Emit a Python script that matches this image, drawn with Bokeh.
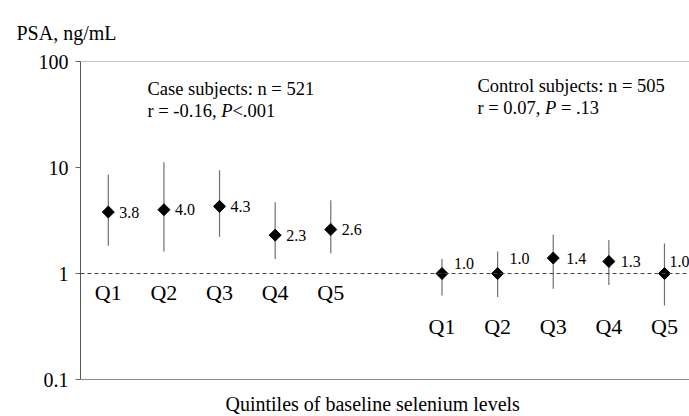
import math
from bokeh.plotting import figure
from bokeh.models import (Range1d, FixedTicker, CustomJSTickFormatter, Span, Label,
                          ColumnDataSource, Title)
from bokeh.embed import file_html
from bokeh.resources import INLINE
from bokeh.core.properties import value

# ---------------- data ----------------
quintiles = ["Q1", "Q2", "Q3", "Q4", "Q5"]
case_psa = [3.8, 4.0, 4.3, 2.3, 2.6]
case_low = [1.83, 1.61, 2.22, 1.37, 1.55]
case_high = [8.6, 11.2, 9.4, 4.7, 4.9]
ctrl_psa = [1.0, 1.0, 1.4, 1.3, 1.0]
ctrl_low = [0.62, 0.60, 0.72, 0.78, 0.50]
ctrl_high = [1.37, 1.61, 2.34, 2.07, 1.92]
y_ticks = [0.1, 1, 10, 100]
case_title = "Case subjects: n = 521"
case_stats = ["r = -0.16, ", "P", "<.001"]
ctrl_title = "Control subjects: n = 505"
ctrl_stats = ["r = 0.07, ", "P", " = .13"]
y_title = "PSA, ng/mL"
x_title = "Quintiles of baseline selenium levels"

# ---------------- style ----------------
FONT = "Liberation Serif"
case_x = [i + 1 for i in range(len(quintiles))]
ctrl_x = [i + 7 for i in range(len(quintiles))]
case_lbl_dy = [0, 0, 0, 0, 0]
case_lbl_dx = [11, 11, 11, 11, 11]
ctrl_lbl_dy = [-10, -15, 0, 0, -12]
ctrl_lbl_dx = [12, 12, 13, 12, 5]

# the frame runs to the bottom of the canvas; the axis itself stops at 0.1
p = figure(width=689, height=416, y_axis_type="log",
           x_range=Range1d(0.5, 11.45), y_range=Range1d(0.0448, 100),
           x_axis_location=None,
           output_backend="svg", toolbar_location=None,
           min_border_left=80, min_border_right=0, min_border_top=61,
           min_border_bottom=0)
p.outline_line_color = None
p.grid.visible = False
p.background_fill_color = "white"
p.border_fill_color = "white"

# left axis
ya = p.yaxis[0]
ya.bounds = (0.1, 100)
ya.ticker = FixedTicker(ticks=y_ticks, minor_ticks=[])
ya.formatter = CustomJSTickFormatter(code="return String(tick);")
ya.major_tick_out = 5
ya.major_tick_in = 0
ya.minor_tick_out = 0
ya.minor_tick_in = 0
ya.major_tick_line_color = "#666666"
ya.axis_line_color = "#555555"
ya.major_label_standoff = 7
ya.major_label_text_font = FONT
ya.major_label_text_font_size = "20px"
ya.major_label_text_color = "black"

# frame lines: top, bottom and reference line at 1
p.add_layout(Span(location=100, dimension="width", line_color="#8a8a8a", line_width=1))
p.add_layout(Span(location=0.1, dimension="width", line_color="#8a8a8a", line_width=1))
p.add_layout(Span(location=1, dimension="width", line_color="#444444", line_width=1,
                  line_dash="4 3"))

case_src = ColumnDataSource(dict(x=case_x, y=case_psa, lo=case_low, hi=case_high,
                                 lab=["%.1f" % v for v in case_psa], q=quintiles,
                                 one=[1] * len(case_x), dy=case_lbl_dy,
                                 dx=case_lbl_dx))
ctrl_src = ColumnDataSource(dict(x=ctrl_x, y=ctrl_psa, lo=ctrl_low, hi=ctrl_high,
                                 lab=["%.1f" % v for v in ctrl_psa], q=quintiles,
                                 one=[1] * len(ctrl_x), dy=ctrl_lbl_dy,
                                 dx=ctrl_lbl_dx))

for src, qdy in ((case_src, 19), (ctrl_src, 53)):
    p.segment(x0="x", y0="lo", x1="x", y1="hi", source=src, line_color="#707070",
              line_width=1.2)
    p.scatter(x="x", y="y", source=src, marker="square", angle=math.pi / 4, size=8.5,
              fill_color="black", line_color="black")
    p.text(x="x", y="y", text="lab", source=src, x_offset="dx", y_offset="dy",
           text_baseline="middle", text_align="left", text_font=value(FONT),
           text_font_size="16px", text_color="black")
    p.text(x="x", y="one", text="q", source=src, y_offset=qdy,
           text_baseline="alphabetic", text_align="center", text_font=value(FONT),
           text_font_size="22px", text_color="black")

# character widths (Times / Liberation Serif, per 1000 em)
W = {' ': 250, 'r': 333, '=': 564, '-': 333, '.': 250, ',': 250, '<': 564, 'P': 611}
for d in "0123456789":
    W[d] = 500


def tw(s, size):
    return sum(W.get(c, 500) for c in s) * size / 1000.0


def add_block(x, y1, y2, title, parts, size=18.5):
    p.add_layout(Label(x=x, y=y1, x_units="screen", y_units="screen", text=title,
                       text_font=FONT, text_font_size="%gpx" % size,
                       text_baseline="alphabetic", text_color="black"))
    cx = x
    for i, s in enumerate(parts):
        lead = len(s) - len(s.lstrip(" "))
        cx += tw(" " * lead, size)
        s2 = s.strip(" ")
        p.add_layout(Label(x=cx, y=y2, x_units="screen", y_units="screen", text=s2,
                           text_font=FONT, text_font_size="%gpx" % size,
                           text_font_style="italic" if i == 1 else "normal",
                           text_baseline="alphabetic", text_color="black"))
        cx += tw(s.lstrip(" "), size)


# screen units are measured from the frame's bottom-left corner (canvas bottom)
add_block(67, 416 - 88, 416 - 110, case_title, case_stats)
add_block(397, 416 - 85, 416 - 107, ctrl_title, ctrl_stats)

p.add_layout(Label(x=145, y=13, x_units="screen", y_units="screen", text=x_title,
                   text_font=FONT, text_font_size="20px", text_baseline="middle",
                   text_align="left", text_color="black"))

p.add_layout(Title(text=y_title, align="left", offset=-64, standoff=36,
                   text_font=FONT, text_font_size="20px", text_font_style="normal",
                   text_color="black"), "above")

open("out.html", "w").write(file_html(p, INLINE))
